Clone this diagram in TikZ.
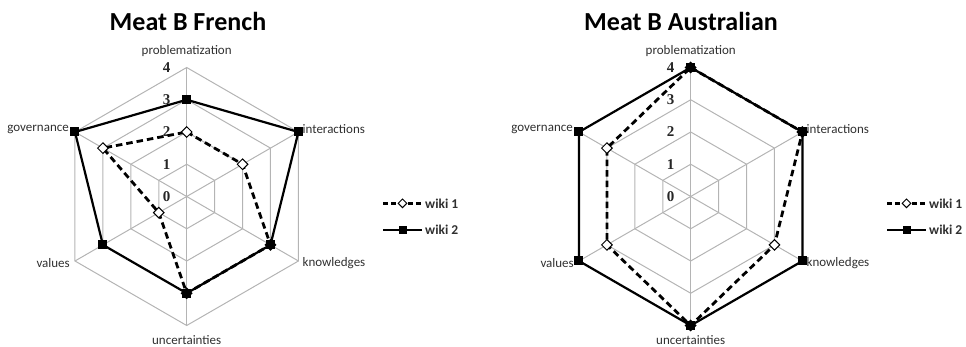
\documentclass[tikz,border=0pt]{standalone}
\usepackage{fontspec}
\setmainfont{Carlito}
\newfontfamily\numfont{Liberation Serif}
\usetikzlibrary{shapes.geometric,calc}
\definecolor{gridgray}{HTML}{B4B4B4}
\definecolor{labelgray}{HTML}{303030}
\definecolor{tickgray}{HTML}{262626}

% one radar chart: #1 name, #2 centre x, #3 centre y, #4 title,
% #5 values of wiki 1, #6 values of wiki 2 (six axes, clockwise from the top),
% #7 x of the title
\newcommand{\radarchart}[7]{%
  \begin{scope}[shift={(#2,#3)}]
    % hexagonal grid, levels 1..4, and the spokes
    \foreach \k in {1,2,3,4}{%
      \draw[gridline] (90:{\k*32.25pt}) -- (30:{\k*32.25pt}) -- (-30:{\k*32.25pt})
        -- (-90:{\k*32.25pt}) -- (-150:{\k*32.25pt}) -- (150:{\k*32.25pt}) -- cycle;}
    \foreach \a in {90,30,-30,-90,-150,150}{\draw[gridline] (0,0) -- (\a:129pt);}
    % scale numbers on the top spoke
    \foreach \k in {0,1,2,3,4}{\node[ticklabel] (#1-tick-\k) at (-20,{\k*32.25}) {\k};}
    % axis names
    \node[axislabel] (#1-ax1) at (0,145) {problematization};
    \node[axislabel, anchor=west] (#1-ax2) at ($(30:129pt)+(4,3)$) {interactions};
    \node[axislabel, anchor=west] (#1-ax3) at ($(-30:129pt)+(4,-2)$) {knowledges};
    \node[axislabel] (#1-ax4) at (0,-143.5) {uncertainties};
    \node[axislabel, anchor=east] (#1-ax5) at ($(-150:129pt)+(-5,-2)$) {values};
    \node[axislabel, anchor=east] (#1-ax6) at ($(150:129pt)+(-6,3)$) {governance};
    % data points
    \foreach \v [count=\i] in {#5}{%
      \pgfmathsetmacro\ang{90-60*(\i-1)}
      \coordinate (#1-a-\i) at (\ang:{\v*32.25pt});}
    \foreach \v [count=\i] in {#6}{%
      \pgfmathsetmacro\ang{90-60*(\i-1)}
      \coordinate (#1-b-\i) at (\ang:{\v*32.25pt});}
    % wiki 1
    \draw[seriesA] (#1-a-1) -- (#1-a-2) -- (#1-a-3) -- (#1-a-4) -- (#1-a-5) -- (#1-a-6) -- cycle;
    \foreach \i in {1,...,6}{\node[dmmark] (#1-am-\i) at (#1-a-\i) {};}
    % wiki 2
    \draw[seriesB] (#1-b-1) -- (#1-b-2) -- (#1-b-3) -- (#1-b-4) -- (#1-b-5) -- (#1-b-6) -- cycle;
    \foreach \i in {1,...,6}{\node[sqmark] (#1-bm-\i) at (#1-b-\i) {};}
  \end{scope}
  \node[charttitle] (#1-title) at (#7,325.5) {#4};
}

% legend: #1 name, #2 left end of the sample line
\newcommand{\chartlegend}[2]{%
  \coordinate (#1-as) at (#2,143.7);
  \coordinate (#1-ae) at ({#2+39},143.7);
  \coordinate (#1-bs) at (#2,117);
  \coordinate (#1-be) at ({#2+39},117);
  \draw[seriesA, dash pattern=on 5pt off 3.2pt] (#1-as) -- (#1-ae);
  \node[dmmark, minimum size=9pt] (#1-am) at ({#2+19.5},143.7) {};
  \draw[seriesB] (#1-bs) -- (#1-be);
  \node[sqmark, minimum size=8pt] (#1-bm) at ({#2+19.5},117) {};
  \node[legendtext] (#1-at) at ({#2+42},143.7) {wiki 1};
  \node[legendtext] (#1-bt) at ({#2+42},117) {wiki 2};
}

\begin{document}
\begin{tikzpicture}[x=1pt,y=1pt,
  gridline/.style={draw=gridgray, line width=1pt},
  seriesA/.style={line width=2.8pt, dash pattern=on 6.5pt off 4pt, line join=miter},
  seriesB/.style={line width=2.2pt, line join=miter},
  sqmark/.style={rectangle, fill=black, minimum size=9pt, inner sep=0pt},
  dmmark/.style={diamond, draw=black, fill=white, line width=1pt, minimum size=11pt, inner sep=0pt},
  axislabel/.style={font=\fontsize{13}{15}\selectfont, text=labelgray, inner sep=0pt},
  ticklabel/.style={font=\numfont\bfseries\fontsize{15}{16}\selectfont, text=tickgray, inner sep=0pt},
  charttitle/.style={font=\bfseries\fontsize{26}{30}\selectfont, inner sep=0pt},
  legendtext/.style={font=\bfseries\fontsize{13.5}{15}\selectfont, text=labelgray, anchor=west, inner sep=0pt},
]
\useasboundingbox (0,0) rectangle (966,347);
\radarchart{fr}{186.7}{150.5}{Meat B French}{2,2,3,3,1,3}{3,4,3,3,3,4}{188}
\radarchart{au}{690.7}{150.5}{Meat B Australian}{4,4,3,4,3,3}{4,4,4,4,4,4}{681}
\chartlegend{lgfr}{383}
\chartlegend{lgau}{887}
\end{tikzpicture}
\end{document}
